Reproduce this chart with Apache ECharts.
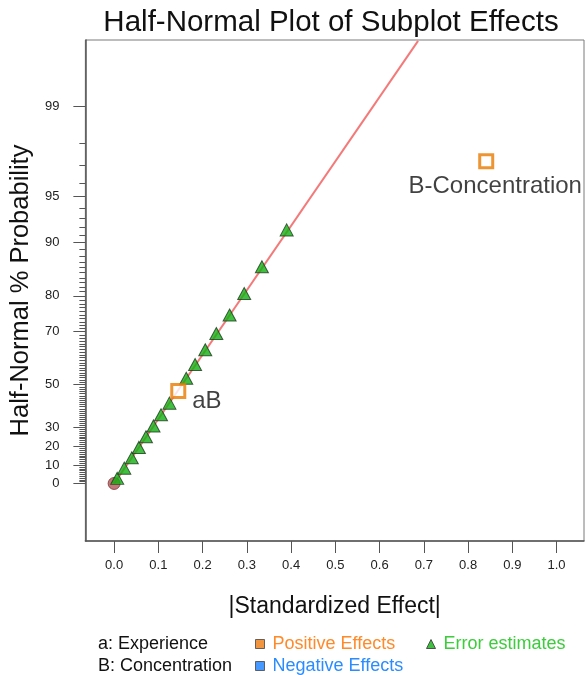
<!DOCTYPE html>
<html>
<head>
<meta charset="utf-8">
<script src="https://cdn.jsdelivr.net/npm/echarts@6/dist/echarts.min.js"></script>
<style>html,body{margin:0;padding:0;background:#fff}#c{width:585px;height:675px}</style>
</head>
<body>
<div id="c"></div>
<script>
// ---- data ----
var positiveNames = ['aB', 'B-Concentration'];
var positiveX = [0.145, 0.841];
var positiveP = [47.22, 97.22];
var errorX = [0.007, 0.023, 0.040, 0.056, 0.072, 0.089, 0.106, 0.125, 0.163, 0.183, 0.206, 0.231, 0.261, 0.294, 0.334, 0.390];
var errorP = [2.78, 8.33, 13.89, 19.44, 25.00, 30.56, 36.11, 41.67, 52.78, 58.33, 63.89, 69.44, 75.00, 80.56, 86.11, 91.67];
var originX = [0];
var originP = [0];
var fitLineX = [0, 0.687];
var fitLineP = [0, 99.75];
var yMajorTicks = [0, 10, 20, 30, 50, 70, 80, 90, 95, 99];
var xTicks = [0.0, 0.1, 0.2, 0.3, 0.4, 0.5, 0.6, 0.7, 0.8, 0.9, 1.0];

// ---- half-normal probability scale ----
function invNorm(p) {
  var a = [-3.969683028665376e+01, 2.209460984245205e+02, -2.759285104469687e+02, 1.383577518672690e+02, -3.066479806614716e+01, 2.506628277459239e+00];
  var b = [-5.447609879822406e+01, 1.615858368580409e+02, -1.556989798598866e+02, 6.680131188771972e+01, -1.328068155288572e+01];
  var c = [-7.784894002430293e-03, -3.223964580411365e-01, -2.400758277161838e+00, -2.549732539343734e+00, 4.374664141464968e+00, 2.938163982698783e+00];
  var d = [7.784695709041462e-03, 3.224671290700398e-01, 2.445134137142996e+00, 3.754408661907416e+00];
  var pl = 0.02425, ph = 1 - pl, q, r;
  if (p < pl) { q = Math.sqrt(-2 * Math.log(p)); return (((((c[0]*q+c[1])*q+c[2])*q+c[3])*q+c[4])*q+c[5]) / ((((d[0]*q+d[1])*q+d[2])*q+d[3])*q+1); }
  if (p <= ph) { q = p - 0.5; r = q*q; return (((((a[0]*r+a[1])*r+a[2])*r+a[3])*r+a[4])*r+a[5])*q / (((((b[0]*r+b[1])*r+b[2])*r+b[3])*r+b[4])*r+1); }
  q = Math.sqrt(-2 * Math.log(1 - p)); return -(((((c[0]*q+c[1])*q+c[2])*q+c[3])*q+c[4])*q+c[5]) / ((((d[0]*q+d[1])*q+d[2])*q+d[3])*q+1);
}
function hz(pct) { return pct <= 0 ? 0 : invNorm(0.5 + pct / 200); }

var majorZ = yMajorTicks.map(hz);
var minorZ = [];
for (var i = 1; i < 99; i++) { if (yMajorTicks.indexOf(i) < 0) minorZ.push(hz(i)); }

var FONT = 'Liberation Sans, Arial, sans-serif';
var Y_MIN = -0.393, Y_MAX = 3.029;

function pts(xs, ps) { return xs.map(function (x, i) { return [x, hz(ps[i])]; }); }

var chart = echarts.init(document.getElementById('c'), null, { renderer: 'canvas' });
chart.setOption({
  animation: false,
  backgroundColor: '#fff',
  title: {
    text: 'Half-Normal Plot of Subplot Effects',
    left: 326, top: 3, textAlign: 'center',
    textStyle: { fontFamily: FONT, fontSize: 29.5, fontWeight: 'normal', color: '#111' }
  },
  grid: { left: 84, right: 1, top: 40, bottom: 134, show: true, borderColor: '#7a7a7a', borderWidth: 1, containLabel: false },
  xAxis: {
    type: 'value', min: -0.065, max: 1.062,
    name: '|Standardized Effect|', nameLocation: 'middle', nameGap: 54,
    nameTextStyle: { fontFamily: FONT, fontSize: 23, color: '#111' },
    axisLine: { show: true, onZero: false, lineStyle: { color: '#555', width: 1.5 } },
    axisTick: { show: true, length: 12, customValues: xTicks, lineStyle: { color: '#555' } },
    axisLabel: { show: true, margin: 18, customValues: xTicks, fontFamily: FONT, fontSize: 13, color: '#222',
      formatter: function (v) { return v.toFixed(1); } },
    splitLine: { show: false }
  },
  yAxis: [{
    type: 'value', min: Y_MIN, max: Y_MAX, position: 'left',
    name: 'Half-Normal % Probability', nameLocation: 'middle', nameGap: 40, nameRotate: 90,
    nameTextStyle: { fontFamily: FONT, fontSize: 25.5, color: '#111' },
    axisLine: { show: true, onZero: false, lineStyle: { color: '#555', width: 1.5 } },
    axisTick: { show: true, length: 12, customValues: majorZ, lineStyle: { color: '#555' } },
    axisLabel: { show: true, margin: 26, customValues: majorZ, fontFamily: FONT, fontSize: 13, color: '#222',
      formatter: function (v) {
        var best = 0, bd = 1e9;
        for (var k = 0; k < majorZ.length; k++) { var dd = Math.abs(majorZ[k] - v); if (dd < bd) { bd = dd; best = k; } }
        return String(yMajorTicks[best]);
      } },
    splitLine: { show: false }
  }, {
    type: 'value', min: Y_MIN, max: Y_MAX, position: 'left',
    axisLine: { show: false, onZero: false },
    axisTick: { show: true, length: 6, customValues: minorZ, lineStyle: { color: '#555', width: 1 } },
    axisLabel: { show: false },
    splitLine: { show: false }
  }],
  legend: [{
    orient: 'vertical', left: 255, top: 634, height: 60, padding: 0, itemWidth: 9, itemHeight: 9, itemGap: 2,
    textStyle: { fontFamily: FONT, fontSize: 18, lineHeight: 20, padding: [0, 0, 0, 3] },
    selectedMode: false,
    data: [
      { name: 'Positive Effects', icon: 'rect', itemStyle: { color: '#ee7a10', borderColor: '#444', borderWidth: 1 }, textStyle: { color: '#ff8a2a' } },
      { name: 'Negative Effects', icon: 'rect', itemStyle: { color: '#1a80ff', borderColor: '#444', borderWidth: 1 }, textStyle: { color: '#2a8cff' } }
    ]
  }, {
    orient: 'vertical', left: 426, top: 634, height: 60, padding: 0, itemWidth: 9, itemHeight: 9, itemGap: 2,
    textStyle: { fontFamily: FONT, fontSize: 18, lineHeight: 20, padding: [0, 0, 0, 3] },
    selectedMode: false,
    data: [
      { name: 'Error estimates', icon: 'triangle', itemStyle: { color: '#10b010', borderColor: '#333', borderWidth: 1 }, textStyle: { color: '#3ccc3c' } }
    ]
  }],
  graphic: [
    { type: 'text', left: 98, top: 635, style: { text: 'a: Experience', fontFamily: FONT, fontSize: 18, fill: '#111' } },
    { type: 'text', left: 98, top: 657, style: { text: 'B: Concentration', fontFamily: FONT, fontSize: 18, fill: '#111' } }
  ],
  series: [{
    name: 'Fit', type: 'line', data: pts(fitLineX, fitLineP), symbol: 'none', clip: true,
    lineStyle: { color: '#f47a7a', width: 2 }, z: 1, silent: true
  }, {
    name: 'Origin', type: 'scatter', data: pts(originX, originP), symbol: 'circle', symbolSize: 12,
    itemStyle: { color: '#b45858', borderColor: '#7a3535', borderWidth: 1 }, z: 2
  }, {
    name: 'Error estimates', type: 'scatter', data: pts(errorX, errorP), symbol: 'triangle', symbolSize: [13, 12],
    itemStyle: { color: '#10b010', borderColor: '#1d3a1d', borderWidth: 1 }, z: 3
  }, {
    name: 'Positive Effects', type: 'scatter', symbol: 'rect', symbolSize: 13,
    data: positiveX.map(function (x, i) {
      return {
        value: [x, hz(positiveP[i])], name: positiveNames[i],
        label: i === 0
          ? { show: true, position: 'right', distance: 6, offset: [0, 10], formatter: '{b}', fontFamily: FONT, fontSize: 24, color: '#111' }
          : { show: true, position: 'bottom', distance: 5, offset: [9, 0], formatter: '{b}', fontFamily: FONT, fontSize: 24, color: '#111' }
      };
    }),
    itemStyle: { color: '#fff', borderColor: '#e87a00', borderWidth: 3 }, z: 4
  }, {
    name: 'Negative Effects', type: 'scatter', data: [], symbol: 'rect',
    itemStyle: { color: '#1a80ff' }
  }]
});
</script>
</body>
</html>
